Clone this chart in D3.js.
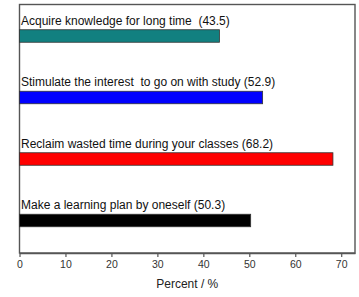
<!DOCTYPE html>
<html>
<head>
<meta charset="utf-8">
<script src="https://cdnjs.cloudflare.com/ajax/libs/d3/7.8.5/d3.min.js"></script>
<style>
  body { margin: 0; background: #fff; }
  svg { display: block; font-family: "Liberation Sans", Arial, sans-serif; }
  .lbl { white-space: pre; }
</style>
</head>
<body>
<svg width="359" height="297"></svg>
<script>
// chart data
const categories = [
    "Acquire knowledge for long time  (43.5)",
    "Stimulate the interest  to go on with study (52.9)",
    "Reclaim wasted time during your classes (68.2)",
    "Make a learning plan by oneself (50.3)"
];
const values = [43.5, 52.9, 68.2, 50.3];
const colors = ["#128080", "#0000ff", "#ff0000", "#000000"];
const xTicks = [0, 10, 20, 30, 40, 50, 60, 70];

const svg = d3.select("svg");
const margin = { top: 4.5, right: 4, bottom: 44, left: 19.5 };
const width = 359 - margin.left - margin.right;
const height = 297 - margin.top - margin.bottom;

const g = svg.append("g")
    .attr("transform", `translate(${margin.left},${margin.top})`);

const x = d3.scaleLinear().domain([0, 73]).range([0, width]);
const y = d3.scalePoint().domain(categories).range([31.5, 216]);
const barH = 12.5;

// frame
g.append("rect")
    .attr("width", width)
    .attr("height", height)
    .attr("fill", "none")
    .attr("stroke", "#555")
    .attr("stroke-width", 1.4);

// bars
g.selectAll(".bar")
    .data(categories)
    .enter().append("rect")
    .attr("class", "bar")
    .attr("x", 0)
    .attr("y", d => y(d) - barH / 2)
    .attr("width", (d, i) => x(values[i]))
    .attr("height", barH)
    .attr("fill", (d, i) => colors[i])
    .attr("stroke", "#333")
    .attr("stroke-width", 0.8);

// bar labels
g.selectAll(".lbl")
    .data(categories)
    .enter().append("text")
    .attr("class", "lbl")
    .attr("x", 1.5)
    .attr("y", d => y(d) - barH / 2 - 5)
    .attr("font-size", 12)
    .attr("fill", "#111")
    .text(d => d);

// x axis
const xAxis = g.append("g")
    .attr("transform", `translate(0,${height})`)
    .call(d3.axisBottom(x).tickValues(xTicks).tickSize(4).tickPadding(4).tickSizeOuter(0));
xAxis.select(".domain").attr("stroke", "#555").attr("stroke-width", 1.4);
xAxis.selectAll(".tick line").attr("stroke", "#555").attr("stroke-width", 1.2);
xAxis.selectAll(".tick text")
    .attr("font-size", 10.5)
    .attr("fill", "#333")
    .attr("font-family", "'Liberation Sans', Arial, sans-serif");

// axis title
g.append("text")
    .attr("x", x(36.5))
    .attr("y", height + 35)
    .attr("text-anchor", "middle")
    .attr("font-size", 12)
    .attr("fill", "#222")
    .text("Percent / %");
</script>
</body>
</html>
